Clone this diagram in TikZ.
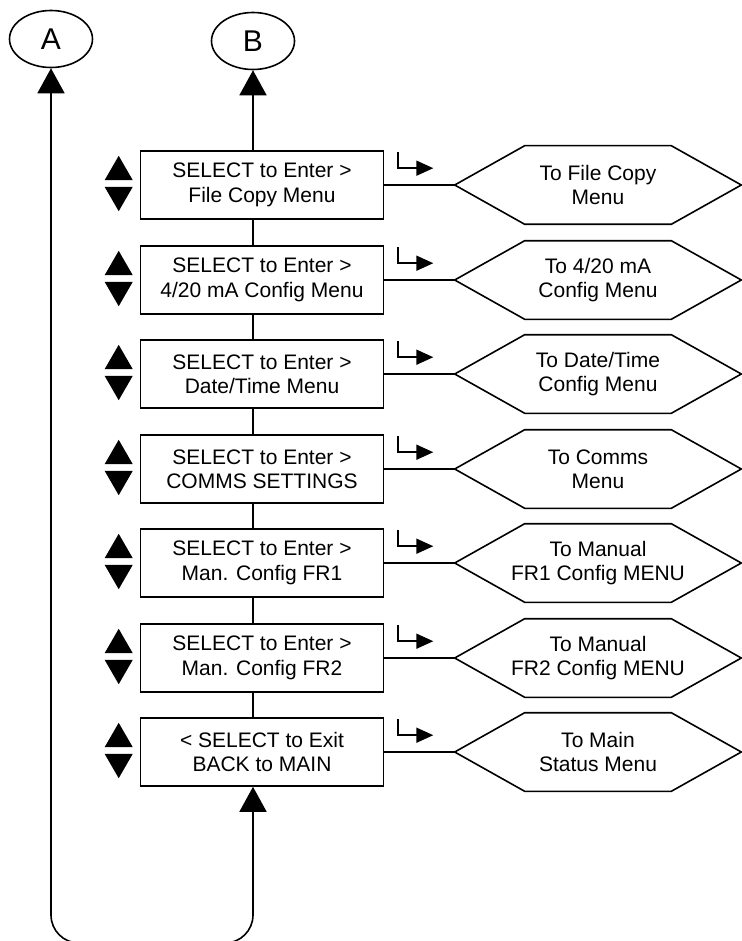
\documentclass[tikz,border=0pt]{standalone}
\usepackage{fontspec}
\setmainfont{Liberation Sans}
\usetikzlibrary{arrows.meta, shapes.geometric, positioning}

\begin{document}
\begin{tikzpicture}[x=0.5pt, y=-0.5pt, line width=0.8pt, font=\fontsize{10.5}{12.2}\selectfont,
    >={Triangle[length=12.5pt, width=13.5pt]}, every node/.style={align=center},
    menubox/.style={draw, minimum width=121.5pt, minimum height=34pt, inner sep=0pt},
    tohex/.style={minimum width=142.5pt, minimum height=38.5pt, inner sep=0pt},
    updn/.style={regular polygon, regular polygon sides=3, fill, inner sep=0pt, minimum size=16.2pt},
    hook/.style={line width=0.85pt, -{Triangle[length=8.5pt, width=7.5pt]}},
    link/.style={line width=1.2pt}]
    \useasboundingbox ({0},{0}) rectangle ({741},{941});

    \node[draw, ellipse, minimum width=41.5pt, minimum height=28.5pt, inner sep=0pt, font=\fontsize{15}{18}\selectfont] (A) at ({51},{39}) {A};
    \node[draw, ellipse, minimum width=41.5pt, minimum height=28.5pt, inner sep=0pt, font=\fontsize{15}{18}\selectfont] (B) at ({253},{41}) {B};

    \node[menubox] (b1) at ({262},{185}) {SELECT to Enter >\\File Copy Menu};
    \node[menubox] (b2) at ({262},{280}) {SELECT to Enter >\\4/20 mA Config Menu};
    \node[menubox] (b3) at ({262},{374}) {SELECT to Enter >\\Date/Time Menu};
    \node[menubox] (b4) at ({262},{469}) {SELECT to Enter >\\COMMS SETTINGS};
    \node[menubox] (b5) at ({262},{563}) {SELECT to Enter >\\Man. Config FR1};
    \node[menubox] (b6) at ({262},{658}) {SELECT to Enter >\\Man. Config FR2};
    \node[menubox] (b7) at ({262},{752}) {< SELECT to Exit\\BACK to MAIN};

    \node[tohex] (h1) at ({598},{185}) {To File Copy\\Menu};
    \node[tohex] (h2) at ({598},{280}) {To 4/20 mA\\Config Menu};
    \node[tohex] (h3) at ({598},{374}) {To Date/Time\\Config Menu};
    \node[tohex] (h4) at ({598},{469}) {To Comms\\Menu};
    \node[tohex] (h5) at ({598},{563}) {To Manual\\FR1 Config MENU};
    \node[tohex] (h6) at ({598},{658}) {To Manual\\FR2 Config MENU};
    \node[tohex] (h7) at ({598},{752}) {To Main\\Status Menu};

    % hexagon outlines
    \draw (h1.west) -- ([xshift=35pt]h1.north west) -- ([xshift=-35pt]h1.north east) -- (h1.east) -- ([xshift=-35pt]h1.south east) -- ([xshift=35pt]h1.south west) -- cycle;
    \draw (h2.west) -- ([xshift=35pt]h2.north west) -- ([xshift=-35pt]h2.north east) -- (h2.east) -- ([xshift=-35pt]h2.south east) -- ([xshift=35pt]h2.south west) -- cycle;
    \draw (h3.west) -- ([xshift=35pt]h3.north west) -- ([xshift=-35pt]h3.north east) -- (h3.east) -- ([xshift=-35pt]h3.south east) -- ([xshift=35pt]h3.south west) -- cycle;
    \draw (h4.west) -- ([xshift=35pt]h4.north west) -- ([xshift=-35pt]h4.north east) -- (h4.east) -- ([xshift=-35pt]h4.south east) -- ([xshift=35pt]h4.south west) -- cycle;
    \draw (h5.west) -- ([xshift=35pt]h5.north west) -- ([xshift=-35pt]h5.north east) -- (h5.east) -- ([xshift=-35pt]h5.south east) -- ([xshift=35pt]h5.south west) -- cycle;
    \draw (h6.west) -- ([xshift=35pt]h6.north west) -- ([xshift=-35pt]h6.north east) -- (h6.east) -- ([xshift=-35pt]h6.south east) -- ([xshift=35pt]h6.south west) -- cycle;
    \draw (h7.west) -- ([xshift=35pt]h7.north west) -- ([xshift=-35pt]h7.north east) -- (h7.east) -- ([xshift=-35pt]h7.south east) -- ([xshift=35pt]h7.south west) -- cycle;

    % up / down keys
    \node[updn] (u1) at ([shift={(-21,-13)}]b1.west) {};
    \node[updn, shape border rotate=180] (d1) at ([shift={(-21,10)}]b1.west) {};
    \node[updn] (u2) at ([shift={(-21,-13)}]b2.west) {};
    \node[updn, shape border rotate=180] (d2) at ([shift={(-21,10)}]b2.west) {};
    \node[updn] (u3) at ([shift={(-21,-13)}]b3.west) {};
    \node[updn, shape border rotate=180] (d3) at ([shift={(-21,10)}]b3.west) {};
    \node[updn] (u4) at ([shift={(-21,-13)}]b4.west) {};
    \node[updn, shape border rotate=180] (d4) at ([shift={(-21,10)}]b4.west) {};
    \node[updn] (u5) at ([shift={(-21,-13)}]b5.west) {};
    \node[updn, shape border rotate=180] (d5) at ([shift={(-21,10)}]b5.west) {};
    \node[updn] (u6) at ([shift={(-21,-13)}]b6.west) {};
    \node[updn, shape border rotate=180] (d6) at ([shift={(-21,10)}]b6.west) {};
    \node[updn] (u7) at ([shift={(-21,-13)}]b7.west) {};
    \node[updn, shape border rotate=180] (d7) at ([shift={(-21,10)}]b7.west) {};

    % select keys
    \draw[hook] ([shift={(14,2)}]b1.north east) -- ++(0,16) -- ++(35,0);
    \draw[hook] ([shift={(14,2)}]b2.north east) -- ++(0,16) -- ++(35,0);
    \draw[hook] ([shift={(14,2)}]b3.north east) -- ++(0,16) -- ++(35,0);
    \draw[hook] ([shift={(14,2)}]b4.north east) -- ++(0,16) -- ++(35,0);
    \draw[hook] ([shift={(14,2)}]b5.north east) -- ++(0,16) -- ++(35,0);
    \draw[hook] ([shift={(14,2)}]b6.north east) -- ++(0,16) -- ++(35,0);
    \draw[hook] ([shift={(14,2)}]b7.north east) -- ++(0,16) -- ++(35,0);

    \draw[link] (b1.east) -- (h1.west);
    \draw[link] (b2.east) -- (h2.west);
    \draw[link] (b3.east) -- (h3.west);
    \draw[link] (b4.east) -- (h4.west);
    \draw[link] (b5.east) -- (h5.west);
    \draw[link] (b6.east) -- (h6.west);
    \draw[link] (b7.east) -- (h7.west);

    % spine and return loop
    \draw[->] (b1.north -| B.south) -- (B.south);
    \draw (b1.south -| B.south) -- (b2.north -| B.south);
    \draw (b2.south -| B.south) -- (b3.north -| B.south);
    \draw (b3.south -| B.south) -- (b4.north -| B.south);
    \draw (b4.south -| B.south) -- (b5.north -| B.south);
    \draw (b5.south -| B.south) -- (b6.north -| B.south);
    \draw (b6.south -| B.south) -- (b7.north -| B.south);
    \coordinate (bot) at ({150},{943});
    \draw[<->, rounded corners=14pt] (b7.south -| B.south) -- (B.south |- bot) -| (A.south);
\end{tikzpicture}
\end{document}
